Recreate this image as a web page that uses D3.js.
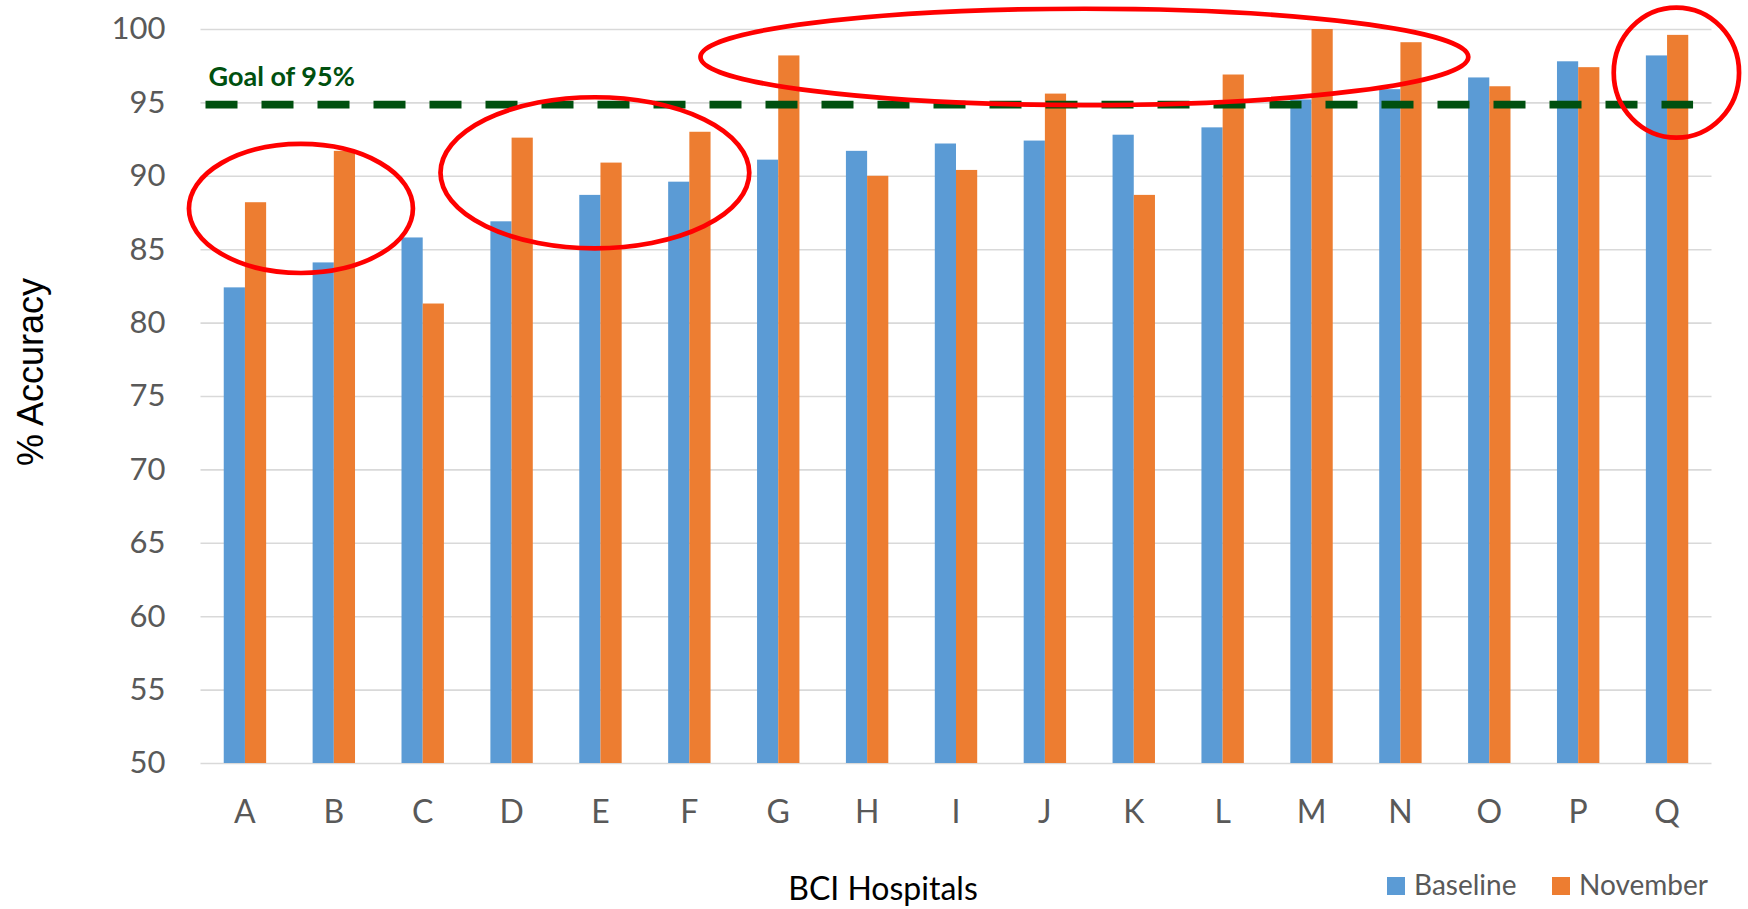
<!DOCTYPE html>
<html>
<head>
<meta charset="utf-8">
<script src="https://cdn.jsdelivr.net/npm/d3@7"></script>
<style>
  body { margin: 0; background: #fff; }
  svg { display: block; }
</style>
</head>
<body>
<div id="chart-container"></div>
<script>
// data
const hospitals = ['A','B','C','D','E','F','G','H','I','J','K','L','M','N','O','P','Q'];
const baseline = [82.4, 84.1, 85.8, 86.9, 88.7, 89.6, 91.1, 91.7, 92.2, 92.4, 92.8, 93.3, 95.2, 95.9, 96.7, 97.8, 98.2];
const november = [88.2, 91.7, 81.3, 92.6, 90.9, 93.0, 98.2, 90.0, 90.4, 95.6, 88.7, 96.9, 100.0, 99.1, 96.1, 97.4, 99.6];
const seriesNames = ['Baseline', 'November'];
const yTicks = [50, 55, 60, 65, 70, 75, 80, 85, 90, 95, 100];
const goalLabel = 'Goal of 95%';
const goalValue = 94.85;

// red ellipses: category index span and value span
const ringFrom = [-0.63, 2.2, 5.125, 15.4];
const ringTo = [1.89, 5.674, 13.764, 16.81];
const ringTop = [92.17, 95.35, 101.38, 101.45];
const ringBottom = [83.38, 85.06, 94.82, 92.6];

const width = 1748, height = 909;
const margin = { top: 29, right: 36.5, bottom: 146, left: 200.5 };
const innerW = width - margin.left - margin.right;
const innerH = height - margin.top - margin.bottom;

const colors = { Baseline: '#5B9BD5', November: '#ED7D31' };
const font = 'Lato, "Open Sans", sans-serif';

const svg = d3.select('#chart-container')
  .append('svg')
  .attr('width', width)
  .attr('height', height);

const g = svg.append('g')
  .attr('transform', `translate(${margin.left},${margin.top})`);

const x = d3.scaleBand()
  .domain(hospitals)
  .range([0, innerW])
  .padding(0);

const groupW = x.bandwidth() * 0.477;
const x1 = d3.scaleBand()
  .domain(seriesNames)
  .range([(x.bandwidth() - groupW) / 2, (x.bandwidth() + groupW) / 2]);

const y = d3.scaleLinear()
  .domain([50, 100])
  .range([innerH, 0]);

// grid
g.append('g')
  .attr('class', 'grid')
  .call(d3.axisLeft(y).tickValues(yTicks).tickSize(-innerW).tickFormat(''))
  .call(s => s.select('.domain').remove())
  .call(s => s.selectAll('line').attr('stroke', '#D9D9D9').attr('stroke-width', 1.6));

// y labels
g.append('g')
  .attr('class', 'y-axis')
  .call(d3.axisLeft(y).tickValues(yTicks).tickSize(0).tickPadding(35))
  .call(s => s.select('.domain').remove())
  .call(s => s.selectAll('text')
    .attr('fill', '#595959')
    .style('font-family', font)
    .style('font-size', '31px'));

// bars
const rows = hospitals.map((h, i) => ({ h, Baseline: baseline[i], November: november[i] }));

g.append('g')
  .selectAll('g')
  .data(rows)
  .join('g')
  .attr('transform', d => `translate(${x(d.h)},0)`)
  .selectAll('rect')
  .data(d => seriesNames.map(k => ({ k, v: d[k] })))
  .join('rect')
  .attr('x', d => x1(d.k))
  .attr('width', x1.bandwidth())
  .attr('y', d => y(d.v))
  .attr('height', d => y(50) - y(d.v))
  .attr('fill', d => colors[d.k]);

// x labels
g.append('g')
  .attr('class', 'x-axis')
  .attr('transform', `translate(0,${innerH})`)
  .call(d3.axisBottom(x).tickSize(0))
  .call(s => s.select('.domain').remove())
  .call(s => s.selectAll('text')
    .attr('y', 60)
    .attr('dy', 0)
    .attr('fill', '#595959')
    .style('font-family', font)
    .style('font-size', '32px'));

// goal line
g.append('line')
  .attr('x1', 5)
  .attr('x2', x('Q') + x.bandwidth() / 2 + 26)
  .attr('y1', y(goalValue))
  .attr('y2', y(goalValue))
  .attr('stroke', '#00500F')
  .attr('stroke-width', 7.7)
  .attr('stroke-dasharray', '32,24');

g.append('text')
  .attr('x', 8)
  .attr('y', y(goalValue) - 18.5)
  .attr('fill', '#00500F')
  .style('font-family', font)
  .style('font-weight', 700)
  .style('font-size', '27px')
  .text(goalLabel);

// red rings
const xi = d3.scaleLinear()
  .domain([0, hospitals.length - 1])
  .range([x(hospitals[0]) + x.bandwidth() / 2, x(hospitals[hospitals.length - 1]) + x.bandwidth() / 2]);

g.append('g')
  .selectAll('ellipse')
  .data(ringFrom.map((f, i) => ({ f, t: ringTo[i], top: ringTop[i], bot: ringBottom[i] })))
  .join('ellipse')
  .attr('cx', d => (xi(d.f) + xi(d.t)) / 2)
  .attr('cy', d => (y(d.top) + y(d.bot)) / 2)
  .attr('rx', d => (xi(d.t) - xi(d.f)) / 2)
  .attr('ry', d => (y(d.bot) - y(d.top)) / 2)
  .attr('fill', 'none')
  .attr('stroke', '#FF0000')
  .attr('stroke-width', 4.7);

// axis titles
svg.append('text')
  .attr('x', 883)
  .attr('y', 900)
  .attr('text-anchor', 'middle')
  .attr('fill', '#000')
  .style('font-family', font)
  .style('font-size', '32px')
  .text('BCI Hospitals');

svg.append('text')
  .attr('transform', 'translate(43,372) rotate(-90)')
  .attr('text-anchor', 'middle')
  .attr('fill', '#000')
  .style('font-family', '"Liberation Sans", Arial, sans-serif')
  .style('font-size', '36px')
  .text('% Accuracy');

// legend
const legend = svg.append('g')
  .selectAll('g')
  .data(seriesNames)
  .join('g')
  .attr('transform', (d, i) => `translate(${[1387, 1552][i]},877)`);

legend.append('rect')
  .attr('width', 18)
  .attr('height', 18)
  .attr('fill', d => colors[d]);

legend.append('text')
  .attr('x', 27)
  .attr('y', 17.5)
  .attr('fill', '#595959')
  .style('font-family', font)
  .style('font-size', '28px')
  .text(d => d);
</script>
</body>
</html>
